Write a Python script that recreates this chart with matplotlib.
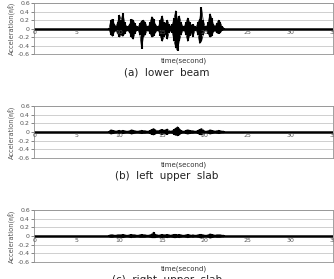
import matplotlib
matplotlib.use("Agg")
import matplotlib.pyplot as plt
import numpy as np

plt.rcParams['font.family'] = ['DejaVu Sans', 'Noto Sans CJK KR']

# time axis of the envelope readings (seconds), active part of the record
t = [8.8, 9.0, 9.2, 9.4, 9.6, 9.8, 10.0, 10.2, 10.4, 10.6, 10.8, 11.0, 11.2, 11.4,
     11.6, 11.8, 12.0, 12.2, 12.4, 12.6, 12.8, 13.0, 13.2, 13.4, 13.6, 13.8, 14.0,
     14.2, 14.4, 14.6, 14.8, 15.0, 15.2, 15.4, 15.6, 15.8, 16.0, 16.2, 16.4, 16.6,
     16.8, 17.0, 17.2, 17.4, 17.6, 17.8, 18.0, 18.2, 18.4, 18.6, 18.8, 19.0, 19.2,
     19.4, 19.6, 19.8, 20.0, 20.2, 20.4, 20.6, 20.8, 21.0, 21.2, 21.4, 21.6, 21.8,
     22.0, 22.2]

# (a) lower beam - upper / lower envelope
beam_hi = [0.02, 0.20, 0.22, 0.10, 0.05, 0.15, 0.32, 0.20, 0.36, 0.15, 0.06, 0.05, 0.10, 0.22,
           0.20, 0.12, 0.05, 0.04, 0.12, 0.18, 0.20, 0.15, 0.06, 0.05, 0.15, 0.28, 0.22,
           0.10, 0.05, 0.06, 0.20, 0.30, 0.15, 0.12, 0.20, 0.10, 0.05, 0.10, 0.25, 0.42,
           0.20, 0.30, 0.15, 0.06, 0.05, 0.15, 0.25, 0.15, 0.08, 0.10, 0.05, 0.04, 0.15,
           0.22, 0.50, 0.20, 0.06, 0.05, 0.15, 0.35, 0.25, 0.10, 0.05, 0.12, 0.20, 0.15,
           0.05, 0.02]
beam_lo = [-0.02, -0.15, -0.18, -0.08, -0.05, -0.12, -0.20, -0.15, -0.18, -0.12, -0.06, -0.05, -0.10, -0.20,
           -0.25, -0.12, -0.05, -0.04, -0.15, -0.47, -0.20, -0.15, -0.06, -0.05, -0.12, -0.20, -0.18,
           -0.10, -0.05, -0.06, -0.18, -0.30, -0.20, -0.12, -0.25, -0.10, -0.05, -0.10, -0.30, -0.45,
           -0.52, -0.30, -0.15, -0.06, -0.05, -0.15, -0.30, -0.18, -0.10, -0.20, -0.06, -0.04, -0.15,
           -0.35, -0.30, -0.15, -0.06, -0.05, -0.12, -0.20, -0.18, -0.08, -0.05, -0.10, -0.12, -0.10,
           -0.05, -0.02]

# (b) left upper slab
left_hi = [0.02, 0.05, 0.04, 0.03, 0.02, 0.03, 0.04, 0.03, 0.04, 0.03, 0.02, 0.02, 0.03, 0.05,
           0.04, 0.03, 0.02, 0.02, 0.03, 0.04, 0.03, 0.03, 0.02, 0.02, 0.04, 0.06, 0.08,
           0.05, 0.03, 0.03, 0.05, 0.06, 0.04, 0.05, 0.07, 0.03, 0.02, 0.03, 0.06, 0.09,
           0.12, 0.08, 0.04, 0.02, 0.02, 0.04, 0.05, 0.04, 0.03, 0.03, 0.02, 0.02, 0.04,
           0.06, 0.08, 0.05, 0.02, 0.02, 0.03, 0.05, 0.04, 0.03, 0.02, 0.03, 0.04, 0.03,
           0.02, 0.02]
left_lo = [-0.02, -0.05, -0.04, -0.03, -0.02, -0.03, -0.04, -0.03, -0.04, -0.03, -0.02, -0.02, -0.03, -0.05,
           -0.04, -0.03, -0.02, -0.02, -0.03, -0.04, -0.03, -0.03, -0.02, -0.02, -0.04, -0.06, -0.07,
           -0.05, -0.03, -0.03, -0.05, -0.06, -0.04, -0.05, -0.06, -0.03, -0.02, -0.03, -0.06, -0.08,
           -0.09, -0.07, -0.04, -0.02, -0.02, -0.04, -0.05, -0.04, -0.03, -0.03, -0.02, -0.02, -0.04,
           -0.06, -0.07, -0.05, -0.02, -0.02, -0.03, -0.05, -0.04, -0.03, -0.02, -0.03, -0.04, -0.03,
           -0.02, -0.02]

# (c) right upper slab
right_hi = [0.02, 0.03, 0.03, 0.02, 0.02, 0.03, 0.03, 0.03, 0.04, 0.03, 0.02, 0.02, 0.03, 0.04,
            0.03, 0.03, 0.02, 0.02, 0.03, 0.04, 0.03, 0.03, 0.02, 0.02, 0.03, 0.05, 0.09,
            0.04, 0.03, 0.02, 0.03, 0.04, 0.03, 0.03, 0.04, 0.03, 0.02, 0.03, 0.04, 0.04,
            0.03, 0.04, 0.03, 0.02, 0.02, 0.03, 0.04, 0.03, 0.02, 0.03, 0.02, 0.02, 0.03,
            0.04, 0.04, 0.03, 0.02, 0.02, 0.03, 0.05, 0.04, 0.03, 0.02, 0.03, 0.03, 0.03,
            0.02, 0.02]
right_lo = [-0.02, -0.03, -0.03, -0.02, -0.02, -0.03, -0.03, -0.03, -0.04, -0.03, -0.02, -0.02, -0.03, -0.04,
            -0.03, -0.03, -0.02, -0.02, -0.03, -0.03, -0.03, -0.03, -0.02, -0.02, -0.03, -0.04, -0.04,
            -0.04, -0.03, -0.02, -0.03, -0.04, -0.03, -0.03, -0.04, -0.03, -0.02, -0.03, -0.04, -0.04,
            -0.03, -0.04, -0.03, -0.02, -0.02, -0.03, -0.04, -0.03, -0.02, -0.03, -0.02, -0.02, -0.03,
            -0.04, -0.05, -0.03, -0.02, -0.02, -0.03, -0.05, -0.04, -0.03, -0.02, -0.03, -0.03, -0.03,
            -0.02, -0.02]

captions = ['(a)  lower  beam', '(b)  left  upper  slab', '(c)  right  upper  slab']
yticks = [-0.6, -0.4, -0.2, 0, 0.2, 0.4, 0.6]
ytick_labels = ['-0.6', '-0.4', '-0.2', '0', '0.2', '0.4', '0.6']
xticks = [0, 5, 10, 15, 20, 25, 30, 35]

fig = plt.figure(figsize=(3.34, 2.79), dpi=100)

# axes boxes: left, bottom, width, height (figure fraction)
boxes = [[0.102, 0.806, 0.895, 0.183],
         [0.102, 0.434, 0.895, 0.186],
         [0.102, 0.061, 0.895, 0.186]]
series = [(beam_hi, beam_lo), (left_hi, left_lo), (right_hi, right_lo)]

for box, (hi, lo), cap in zip(boxes, series, captions):
    ax = fig.add_axes(box)
    ax.set_xlim(0, 35)
    ax.set_ylim(-0.6, 0.6)
    for yv in yticks:
        ax.axhline(yv, color='#c8c8c8', lw=0.6, zorder=0)
    # baseline noise along the whole record
    ax.axhline(0, color='black', lw=1.8, zorder=2)
    ax.vlines(t, lo, hi, color='black', lw=1.5, zorder=3)
    ax.plot(t, hi, color='black', lw=0.5, zorder=3)
    ax.plot(t, lo, color='black', lw=0.5, zorder=3)

    ax.set_yticks(yticks)
    ax.set_yticklabels(ytick_labels, fontsize=4.5, color='#555555')
    ax.tick_params(axis='y', length=2, width=0.5, pad=1, colors='#555555')
    ax.set_xticks([])
    for xv in xticks:
        ax.text(xv, -0.035, str(xv), ha='center', va='top', fontsize=4.5,
                color='#555555', clip_on=False)
    for s in ax.spines.values():
        s.set_color('#909090')
        s.set_linewidth(0.6)
    ax.set_ylabel('Acceleration(㎨)', fontsize=4.8, color='#555555', labelpad=1)
    ax.text(0.5, -0.06, 'time(second)', transform=ax.transAxes, ha='center',
            va='top', fontsize=5, color='#333333')
    fig.text(0.5, box[1] - 0.065, cap, ha='center', va='center', fontsize=7.5,
             color='#222222')

fig.savefig('out.png', dpi=100)
